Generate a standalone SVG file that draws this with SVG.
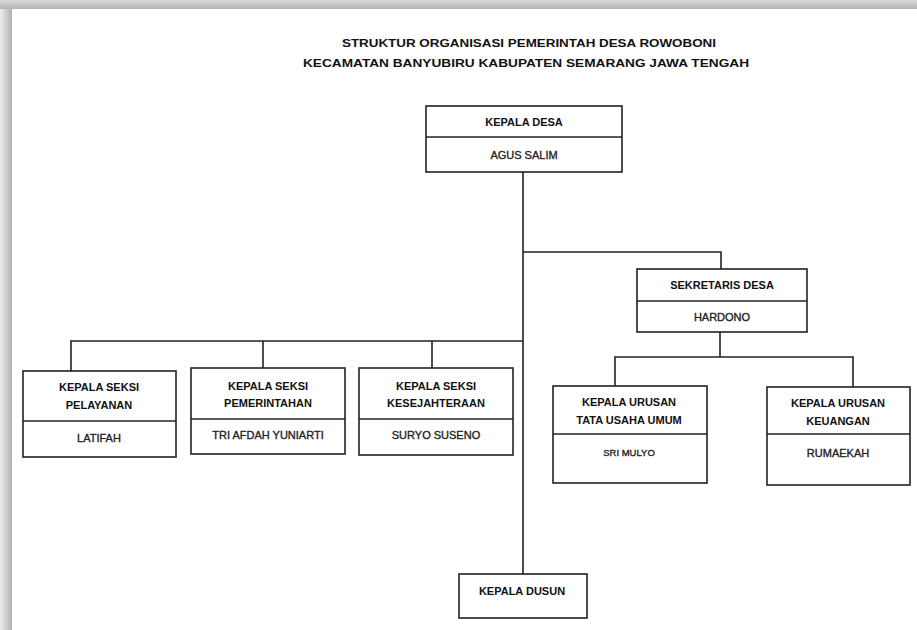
<svg xmlns="http://www.w3.org/2000/svg" width="917" height="630" viewBox="0 0 917 630">
<defs>
<linearGradient id="shTop" x1="0" y1="0" x2="0" y2="1">
<stop offset="0" stop-color="#d8d8d8"/><stop offset="1" stop-color="#b4b4b4"/>
</linearGradient>
<linearGradient id="shLeft" x1="0" y1="0" x2="1" y2="0">
<stop offset="0" stop-color="#ececec"/><stop offset="1" stop-color="#b0b0b0"/>
</linearGradient>
<style>
.box{fill:#fff;stroke:#222;stroke-width:1.6}
.div{stroke:#222;stroke-width:1.4}
.conn{fill:none;stroke:#222;stroke-width:1.6}
text{font-family:"Liberation Sans",Arial,sans-serif;font-size:11px;text-anchor:middle;dominant-baseline:central}
.t{font-weight:bold;fill:#111}
.n{fill:#222;stroke:#222;stroke-width:0.35}
.title{font-weight:bold;fill:#111;font-size:11.5px}
</style>
</defs>
<rect x="0" y="0" width="917" height="630" fill="#fff"/>
<rect x="0" y="0" width="917" height="9" fill="url(#shTop)"/>
<rect x="0" y="9" width="12" height="621" fill="url(#shLeft)"/>
<text class="title" x="529" y="43" textLength="374" lengthAdjust="spacingAndGlyphs">STRUKTUR ORGANISASI PEMERINTAH DESA ROWOBONI</text>
<text class="title" x="526" y="63" textLength="446" lengthAdjust="spacingAndGlyphs">KECAMATAN BANYUBIRU KABUPATEN SEMARANG JAWA TENGAH</text>
<g id="connectors">
<path class="conn" d="M523 172 V574"/>
<path class="conn" d="M523 252 H721 V269"/>
<path class="conn" d="M523 341 H71 V371 M263 341 V368 M432 341 V368"/>
<path class="conn" d="M720 332 V357 M615 386 V357 H853 V387"/>
</g>
<g id="kepala-desa">
<rect class="box" x="426" y="106" width="196" height="66"/>
<line class="div" x1="426" y1="137" x2="622" y2="137"/>
<text class="t" x="524" y="122">KEPALA DESA</text>
<text class="n" x="524" y="155">AGUS SALIM</text>
</g>
<g id="sekretaris-desa">
<rect class="box" x="637" y="269" width="170" height="63"/>
<line class="div" x1="637" y1="301" x2="807" y2="301"/>
<text class="t" x="722" y="285">SEKRETARIS  DESA</text>
<text class="n" x="722" y="317">HARDONO</text>
</g>
<g id="kasi-pelayanan">
<rect class="box" x="23" y="371" width="153" height="86"/>
<line class="div" x1="23" y1="421" x2="176" y2="421"/>
<text class="t" x="99" y="387">KEPALA SEKSI</text>
<text class="t" x="99" y="405">PELAYANAN</text>
<text class="n" x="99" y="438">LATIFAH</text>
</g>
<g id="kasi-pemerintahan">
<rect class="box" x="191" y="368" width="154" height="86"/>
<line class="div" x1="191" y1="419" x2="345" y2="419"/>
<text class="t" x="268" y="386">KEPALA SEKSI</text>
<text class="t" x="268" y="403">PEMERINTAHAN</text>
<text class="n" x="268" y="435">TRI AFDAH YUNIARTI</text>
</g>
<g id="kasi-kesejahteraan">
<rect class="box" x="359" y="368" width="154" height="87"/>
<line class="div" x1="359" y1="419" x2="513" y2="419"/>
<text class="t" x="436" y="386">KEPALA SEKSI</text>
<text class="t" x="436" y="403">KESEJAHTERAAN</text>
<text class="n" x="436" y="435">SURYO SUSENO</text>
</g>
<g id="kaur-tu">
<rect class="box" x="553" y="386" width="154" height="97"/>
<line class="div" x1="553" y1="434" x2="707" y2="434"/>
<text class="t" x="629" y="402">KEPALA URUSAN</text>
<text class="t" x="629" y="420">TATA USAHA UMUM</text>
<text class="n" x="629" y="452" style="font-size:9.5px">SRI MULYO</text>
</g>
<g id="kaur-keuangan">
<rect class="box" x="767" y="387" width="143" height="98"/>
<line class="div" x1="767" y1="434" x2="910" y2="434"/>
<text class="t" x="838" y="403">KEPALA URUSAN</text>
<text class="t" x="838" y="421">KEUANGAN</text>
<text class="n" x="838" y="453">RUMAEKAH</text>
</g>
<g id="kepala-dusun">
<rect class="box" x="459" y="574" width="128" height="44"/>
<text class="t" x="522" y="591">KEPALA DUSUN</text>
</g>
</svg>
